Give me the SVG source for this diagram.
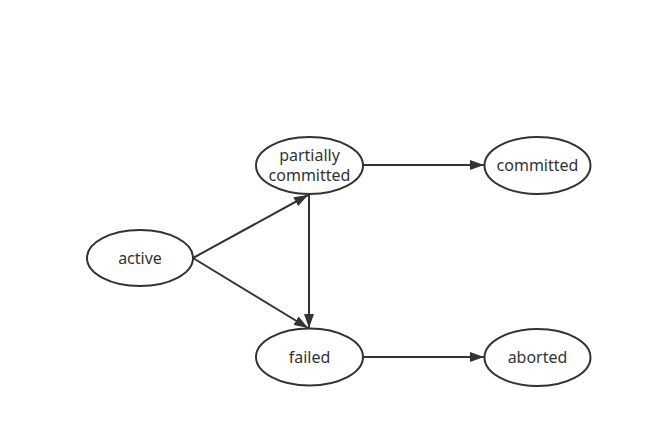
<svg xmlns="http://www.w3.org/2000/svg" width="653" height="448" viewBox="0 0 653 448">
<style>
.n ellipse{fill:#fff;stroke:#333;stroke-width:2}
.n text{font-family:"Noto Sans","Open Sans",sans-serif;font-size:16px;fill:#333;text-anchor:middle;dominant-baseline:central}
#edges line{stroke:#333;stroke-width:2;marker-end:url(#ah)}
</style>
<defs>
<marker id="ah" viewBox="0 0 14 10" refX="14" refY="5" markerWidth="14" markerHeight="10" markerUnits="userSpaceOnUse" orient="auto">
<path d="M0,0 L14,5 L0,10 Z" fill="#333"/>
</marker>
</defs>
<rect width="653" height="448" fill="#fff"/>
<g id="edges">
<line x1="193" y1="258" x2="308" y2="195"/>
<line x1="193" y1="258" x2="308" y2="328"/>
<line x1="309" y1="194" x2="309" y2="328"/>
<line x1="363" y1="165" x2="484" y2="165"/>
<line x1="363" y1="357" x2="484" y2="357"/>
</g>
<g id="active" class="n"><ellipse cx="140" cy="258" rx="53" ry="28"/><text x="140" y="258">active</text></g>
<g id="partially" class="n"><ellipse cx="309.5" cy="165.5" rx="53.5" ry="28.5"/><text x="309.5" y="155">partially</text><text x="309.5" y="175">committed</text></g>
<g id="committed" class="n"><ellipse cx="537.5" cy="165.5" rx="53" ry="28.5"/><text x="537.5" y="165">committed</text></g>
<g id="failed" class="n"><ellipse cx="309.5" cy="357" rx="53.5" ry="28.5"/><text x="309.5" y="357">failed</text></g>
<g id="aborted" class="n"><ellipse cx="537.5" cy="357.5" rx="53" ry="28.5"/><text x="537.5" y="357">aborted</text></g>
</svg>
